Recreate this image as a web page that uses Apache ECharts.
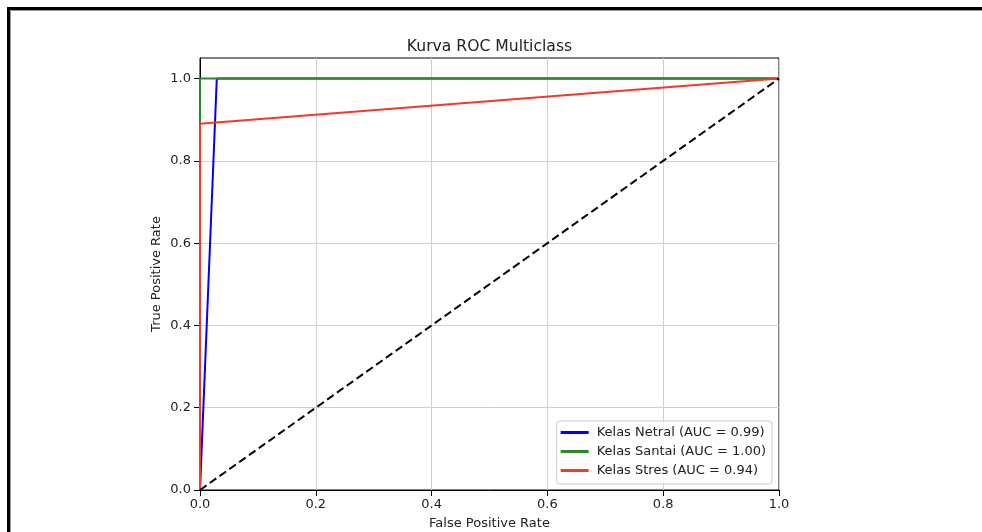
<!DOCTYPE html>
<html>
<head>
<meta charset="utf-8">
<script src="https://cdn.jsdelivr.net/npm/echarts@6/dist/echarts.min.js"></script>
<style>
  html, body { margin: 0; padding: 0; background: #fff; }
  #chart { width: 982px; height: 532px; }
</style>
</head>
<body>
<div id="chart"></div>
<script>
// ROC curves as [fpr, tpr]
var netralRoc = [[0, 0], [0.029, 1.0], [1, 1]];
var santaiRoc = [[0, 0], [0, 1.0], [1, 1]];
var stresRoc = [[0, 0], [0, 0.89], [1, 1]];
var chanceLine = [[0, 0], [1, 1]];

var seriesNames = ['Kelas Netral (AUC = 0.99)', 'Kelas Santai (AUC = 1.00)', 'Kelas Stres (AUC = 0.94)'];
var tickValues = [0, 0.2, 0.4, 0.6, 0.8, 1.0];

var chart = echarts.init(document.getElementById('chart'), null, { renderer: 'canvas' });
var font = 'DejaVu Sans';

function lineSeries(name, data, color, dashed) {
  return {
    name: name,
    type: 'line',
    data: data,
    showSymbol: false,
    symbol: 'none',
    lineStyle: { color: color, width: 2, type: dashed ? [8, 4] : 'solid' },
    itemStyle: { color: color },
    silent: true
  };
}

var option = {
  animation: false,
  backgroundColor: '#fff',
  title: {
    text: 'Kurva ROC Multiclass',
    left: 489.5,
    top: 39,
    padding: 0,
    textAlign: 'center',
    textStyle: { fontFamily: font, fontSize: 15.6, fontWeight: 'normal', color: '#222' }
  },
  grid: {
    left: 200, right: 203, top: 58, bottom: 42,
    outerBoundsMode: 'none',
    containLabel: false,
    show: true, borderColor: '#000', borderWidth: 1, backgroundColor: 'transparent'
  },
  legend: {
    data: seriesNames,
    orient: 'vertical',
    right: 210,
    bottom: 48,
    icon: 'rect',
    itemWidth: 28,
    itemHeight: 3,
    itemGap: 4,
    padding: [4, 6, 6, 4],
    borderColor: '#cccccc',
    borderWidth: 1,
    borderRadius: 3,
    backgroundColor: 'rgba(255,255,255,0.8)',
    textStyle: { fontFamily: font, fontSize: 13, color: '#222', lineHeight: 15, padding: [0, 0, 0, 3] }
  },
  xAxis: {
    type: 'value',
    min: 0, max: 1, interval: 0.2,
    name: 'False Positive Rate',
    nameLocation: 'middle',
    nameGap: 27,
    nameMoveOverlap: false,
    nameTextStyle: { fontFamily: font, fontSize: 13, color: '#222' },
    axisLine: { show: true, lineStyle: { color: '#000', width: 1 } },
    axisTick: { show: true, length: 6, lineStyle: { color: '#000' } },
    axisLabel: {
      fontFamily: font, fontSize: 13, color: '#222', margin: 8,
      formatter: function (v) { return v.toFixed(1); }
    },
    splitLine: { show: true, lineStyle: { color: '#cfcfcf', width: 1 } }
  },
  yAxis: {
    type: 'value',
    min: 0, max: 1.05, interval: 0.2,
    name: 'True Positive Rate',
    nameLocation: 'middle',
    nameGap: 37,
    nameMoveOverlap: false,
    nameTextStyle: { fontFamily: font, fontSize: 13, color: '#222' },
    axisLine: { show: true, lineStyle: { color: '#000', width: 1 } },
    axisTick: { show: true, length: 6, lineStyle: { color: '#000' }, customValues: tickValues },
    axisLabel: {
      fontFamily: font, fontSize: 13, color: '#222', margin: 9,
      customValues: tickValues,
      formatter: function (v) { return v.toFixed(1); }
    },
    splitLine: { show: true, lineStyle: { color: '#cfcfcf', width: 1 } }
  },
  graphic: [
    // screenshot frame on top and left
    { type: 'rect', shape: { x: 7, y: 7, width: 975, height: 3 }, style: { fill: '#000' }, silent: true },
    { type: 'rect', shape: { x: 7, y: 7, width: 3, height: 525 }, style: { fill: '#000' }, silent: true },
    { type: 'rect', shape: { x: 10, y: 10, width: 972, height: 1 }, style: { fill: '#999' }, silent: true },
    { type: 'rect', shape: { x: 10, y: 10, width: 1, height: 522 }, style: { fill: '#999' }, silent: true }
  ],
  series: [
    lineSeries(seriesNames[0], netralRoc, '#0000ff', false),
    lineSeries(seriesNames[1], santaiRoc, '#2e862e', false),
    lineSeries(seriesNames[2], stresRoc, '#f03a2a', false),
    lineSeries('chance', chanceLine, '#000000', true)
  ]
};

chart.setOption(option);
</script>
</body>
</html>
